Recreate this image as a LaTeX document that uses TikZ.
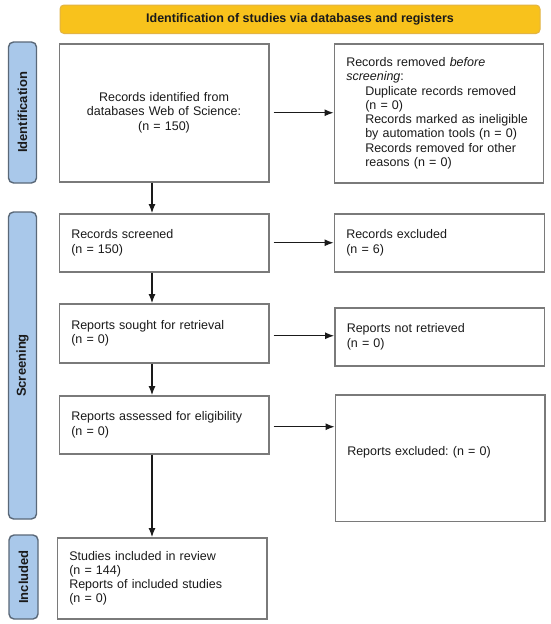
\documentclass[tikz,border=0pt]{standalone}
\usepackage{fontspec}
\setmainfont{Liberation Sans}
\usetikzlibrary{arrows.meta}
\definecolor{boxline}{HTML}{7A7A7A}
\definecolor{sidefill}{HTML}{A9C8EA}
\definecolor{sideline}{HTML}{5A6878}
\definecolor{bannerfill}{HTML}{F8C21C}
\definecolor{bannerline}{HTML}{E2B445}
\definecolor{arrowcol}{HTML}{1A1A1A}
\definecolor{txtcol}{HTML}{1A1A1A}
\begin{document}
\frenchspacing
\begin{tikzpicture}[x=1pt,y=-1pt,
  box/.style={draw=boxline, line width=1.5pt, fill=white, anchor=north west, text=txtcol,
    inner ysep=0pt, inner xsep=12pt, font=\fontsize{12.5}{14.3}\selectfont},
  cbox/.style={box, align=center},
  lbox/.style={box, align=left},
  sidebox/.style={draw=sideline, line width=1.4pt, fill=sidefill, rounded corners=5pt,
    rotate=90, inner sep=0pt, text=txtcol, font=\fontsize{13}{15}\selectfont\bfseries},
  banner/.style={draw=bannerline, line width=1pt, fill=bannerfill, rounded corners=4pt,
    inner sep=0pt, text=txtcol, font=\fontsize{12.5}{15}\selectfont\bfseries},
  arr/.style={draw=arrowcol, line width=1.1pt, -{Latex[length=9pt,width=7pt]}}
]
\useasboundingbox (0,0) rectangle (550,624);
\fill[white] (0,0) rectangle (550,624);

% banner
\node[banner, minimum width=480pt, minimum height=28.5pt] (ban) at (300,19.25)
  {Identification of studies via databases and registers};

% side labels
\node[sidebox, minimum width=141pt, minimum height=28pt] (sideid) at (22.5,112.5) {Identification};
\node[sidebox, minimum width=307pt, minimum height=28pt] (sidescr) at (22.5,365.5) {Screening};
\node[sidebox, minimum width=84pt, minimum height=29pt] (sideinc) at (23.5,577) {Included};

% identification row
\node[cbox, minimum width=209.5pt, minimum height=138pt, text width=185pt] (id) at (58.5,43)
  {Records identified from\\databases Web of Science:\\(n = 150)};
\node[lbox, minimum width=209pt, minimum height=139pt, text width=185pt] (rem) at (333.5,43)
  {Records removed \textit{before}\\
   \textit{screening}:\\
   \hspace*{19pt}Duplicate records removed\\
   \hspace*{19pt}(n = 0)\\
   \hspace*{19pt}Records marked as ineligible\\
   \hspace*{19pt}by automation tools (n = 0)\\
   \hspace*{19pt}Records removed for other\\
   \hspace*{19pt}reasons (n = 0)};

% screening rows
\node[lbox, minimum width=209.5pt, minimum height=58pt, text width=185.5pt] (scr) at (58.5,213)
  {Records screened\\(n = 150)};
\node[lbox, minimum width=210pt, minimum height=58pt, text width=186pt] (exc) at (333.5,213)
  {Records excluded\\(n = 6)};

\node[lbox, minimum width=209.5pt, minimum height=59pt, text width=185.5pt] (sought) at (58.5,303)
  {Reports sought for retrieval\\(n = 0)};
\node[lbox, minimum width=209.5pt, minimum height=58pt, text width=185.5pt] (nret) at (334,307)
  {Reports not retrieved\\(n = 0)};

\node[lbox, minimum width=209.5pt, minimum height=58pt, text width=185.5pt] (assess) at (58.5,395)
  {Reports assessed for eligibility\\(n = 0)};
\node[lbox, minimum width=209.5pt, minimum height=126.5pt, text width=185.5pt] (rexc) at (334.5,394)
  {Reports excluded: (n = 0)\\ \mbox{}};

% included
\node[lbox, minimum width=209.5pt, minimum height=81pt, text width=185.5pt] (incl) at (56.5,537)
  {Studies included in review\\(n = 144)\\Reports of included studies\\(n = 0)};

% connectors
\coordinate (vx) at (152,0);
\draw[arr, shorten <=4pt] (id.east) -- (id.east -| rem.west);
\draw[arr] (id.south -| vx) -- (scr.north -| vx);
\draw[arr, shorten <=4pt] (scr.east) -- (scr.east -| exc.west);
\draw[arr] (scr.south -| vx) -- (sought.north -| vx);
\draw[arr, shorten <=4pt] ([yshift=-2.5pt]sought.east) -- ([yshift=-2.5pt]sought.east -| nret.west);
\draw[arr] (sought.south -| vx) -- (assess.north -| vx);
\draw[arr, shorten <=4pt] ([yshift=-2pt]assess.east) -- ([yshift=-2pt]assess.east -| rexc.west);
\draw[arr] (assess.south -| vx) -- (incl.north -| vx);
\end{tikzpicture}
\end{document}
